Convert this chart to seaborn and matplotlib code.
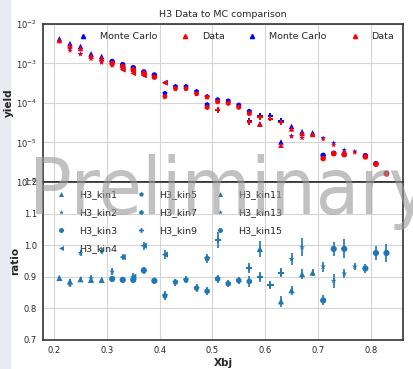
import matplotlib
matplotlib.use("Agg")
import matplotlib.pyplot as plt
from matplotlib.lines import Line2D
from matplotlib.patches import Rectangle
import seaborn as sns
import pandas as pd

sns.set_style("whitegrid", {"axes.edgecolor": "#333333", "grid.color": "#d5d5d5"})

kins = ['H3_kin1', 'H3_kin2', 'H3_kin3', 'H3_kin4', 'H3_kin5',
        'H3_kin7', 'H3_kin9', 'H3_kin11', 'H3_kin13', 'H3_kin15']
kin_markers = ['^', '*', 'o', '<', 'p', 'h', 'P', '^', '*', 'o']

xbj = [[0.21, 0.23, 0.25, 0.27, 0.29],
       [0.23, 0.25, 0.27, 0.29, 0.31],
       [0.31, 0.33, 0.35, 0.37, 0.39],
       [0.33, 0.35, 0.37, 0.41],
       [0.41, 0.43, 0.45, 0.47, 0.49],
       [0.49, 0.51, 0.53, 0.55, 0.57],
       [0.51, 0.57, 0.59, 0.61, 0.63],
       [0.59, 0.63, 0.65, 0.67, 0.69],
       [0.65, 0.67, 0.71, 0.73, 0.75, 0.77],
       [0.71, 0.73, 0.75, 0.79, 0.81, 0.83]]

data_yield = [[3.8e-3, 2.8e-3, 2.4e-3, 1.55e-3, 1.35e-3],
              [2.1e-3, 1.7e-3, 1.29e-3, 1.05e-3, 8.7e-4],
              [1.0e-3, 8.3e-4, 6.9e-4, 5.6e-4, 4.5e-4],
              [6.9e-4, 5.6e-4, 5.0e-4, 3.2e-4],
              [1.45e-4, 2.3e-4, 2.3e-4, 1.7e-4, 1.4e-4],
              [7.7e-5, 1.07e-4, 9.8e-5, 7.8e-5, 5.4e-5],
              [6.6e-5, 3.3e-5, 4.3e-5, 4.0e-5, 3.2e-5],
              [2.9e-5, 8.5e-6, 2.2e-5, 1.7e-5, 1.6e-5],
              [1.4e-5, 1.3e-5, 1.2e-5, 8.5e-6, 5.8e-6, 5.5e-6],
              [3.9e-6, 5.2e-6, 4.9e-6, 4.3e-6, 2.8e-6, 1.6e-6]]

mc_yield = [[4.2e-3, 3.2e-3, 2.7e-3, 1.75e-3, 1.5e-3],
            [2.4e-3, 1.75e-3, 1.45e-3, 1.07e-3, 9.5e-4],
            [1.12e-3, 9.3e-4, 7.8e-4, 6.1e-4, 5.1e-4],
            [7.2e-4, 6.2e-4, 5.0e-4, 3.3e-4],
            [1.75e-4, 2.6e-4, 2.6e-4, 1.95e-4, 1.45e-4],
            [9.0e-5, 1.2e-4, 1.12e-4, 8.8e-5, 6.1e-5],
            [6.5e-5, 3.6e-5, 4.8e-5, 4.6e-5, 3.5e-5],
            [2.95e-5, 1.03e-5, 2.55e-5, 1.87e-5, 1.75e-5],
            [1.46e-5, 1.31e-5, 1.29e-5, 9.6e-6, 6.4e-6, 5.9e-6],
            [4.7e-6, 5.3e-6, 5.0e-6, 4.6e-6, 2.9e-6, 1.65e-6]]

ratio = [[0.896, 0.885, 0.892, 0.890, 0.890],
         [0.877, 0.975, 0.895, 0.982, 0.916],
         [0.893, 0.890, 0.890, 0.920, 0.887],
         [0.962, 0.900, 0.998, 0.970],
         [0.840, 0.883, 0.890, 0.864, 0.958],
         [0.854, 0.893, 0.878, 0.888, 0.885],
         [1.015, 0.928, 0.899, 0.873, 0.913],
         [0.988, 0.822, 0.857, 0.908, 0.913],
         [0.956, 0.993, 0.932, 0.887, 0.910, 0.932],
         [0.825, 0.988, 0.988, 0.926, 0.975, 0.975]]

ratio_err = [[0.007, 0.008, 0.007, 0.008, 0.007],
             [0.009, 0.010, 0.009, 0.010, 0.010],
             [0.009, 0.009, 0.010, 0.011, 0.010],
             [0.010, 0.011, 0.012, 0.014],
             [0.014, 0.011, 0.011, 0.012, 0.015],
             [0.012, 0.012, 0.011, 0.012, 0.017],
             [0.025, 0.016, 0.017, 0.012, 0.014],
             [0.025, 0.018, 0.014, 0.016, 0.012],
             [0.020, 0.028, 0.016, 0.022, 0.014, 0.012],
             [0.016, 0.022, 0.030, 0.015, 0.022, 0.028]]

rows = []
for k, name in enumerate(kins):
    for i in range(len(xbj[k])):
        rows.append({'kin': name, 'Xbj': xbj[k][i], 'data': data_yield[k][i],
                     'mc': mc_yield[k][i], 'ratio': ratio[k][i], 'err': ratio_err[k][i]})
df = pd.DataFrame(rows)
mk = dict(zip(kins, kin_markers))

fig = plt.figure(figsize=(4.14, 3.69), dpi=100)
fig.patches.append(Rectangle((0, 0), 10 / 414, 1, transform=fig.transFigure,
                             color='#eaeaf2', zorder=-10))
ax1 = fig.add_axes([0.104, 0.507, 0.869, 0.428])
ax2 = fig.add_axes([0.104, 0.079, 0.869, 0.428], sharex=ax1)

# yields
sns.scatterplot(data=df, x='Xbj', y='mc', style='kin', markers=mk, color='blue',
                s=16, linewidth=0, legend=False, ax=ax1)
sns.scatterplot(data=df, x='Xbj', y='data', style='kin', markers=mk, color='red',
                s=16, linewidth=0, legend=False, ax=ax1)
ax1.set_yscale('log')
ax1.set_ylim(1e-6, 1e-2)
ax1.set_ylabel('yield', fontsize=7.5, fontweight='bold')
ax1.yaxis.set_label_coords(-0.08, 0.5)
ax1.set_xlabel('')
ax1.set_title('H3 Data to MC comparison', fontsize=6.8, pad=5)
plt.setp(ax1.get_xticklabels(), visible=False)
h_mc = Line2D([], [], marker='^', color='blue', ls='none', ms=3)
h_da = Line2D([], [], marker='^', color='red', ls='none', ms=3)
ax1.legend([h_mc, h_da, h_mc, h_da], ['Monte Carlo', 'Data', 'Monte Carlo', 'Data'],
           ncol=4, mode='expand', frameon=False, fontsize=6.8,
           bbox_to_anchor=(0.06, 0.83, 0.94, 0.17), loc='upper left')

# ratio
for k, name in enumerate(kins):
    sub = df[df.kin == name]
    ax2.errorbar(sub['Xbj'], sub['ratio'], yerr=sub['err'], fmt='none',
                 ecolor='#1f77b4', elinewidth=1.2)
sns.scatterplot(data=df, x='Xbj', y='ratio', style='kin', markers=mk, color='#1f77b4',
                s=20, linewidth=0, ax=ax2)
ax2.set_ylim(0.7, 1.2)
ax2.set_xlim(0.179, 0.861)
ax2.set_ylabel('ratio', fontsize=7.5, fontweight='bold')
ax2.yaxis.set_label_coords(-0.064, 0.5)
ax2.set_xlabel('Xbj', fontsize=7.5, fontweight='bold', labelpad=2)
ax2.legend(ncol=3, frameon=False, fontsize=6.8, loc='upper left',
           labelspacing=0.95, columnspacing=1.5, handletextpad=0.9,
           markerscale=0.8, bbox_to_anchor=(0.0, 1.0))

for ax in (ax1, ax2):
    ax.tick_params(labelsize=6, pad=1)
    for s in ax.spines.values():
        s.set_linewidth(1.2)

fig.text(29 / 414, 0.42, 'Preliminary', fontsize=57, fontstretch='condensed',
         color='#999999', alpha=0.6, ha='left', va='baseline', zorder=5)

fig.savefig('out.png', dpi=100)
